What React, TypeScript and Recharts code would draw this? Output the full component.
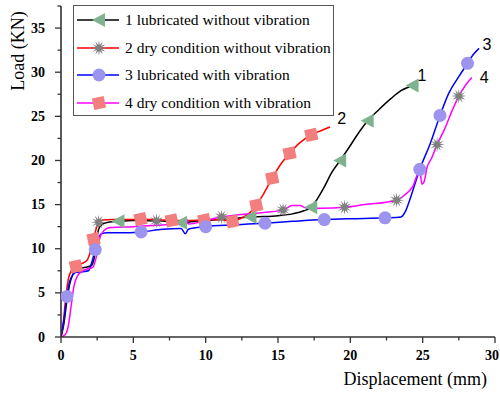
import { LineChart, Line, XAxis, YAxis, ReferenceDot } from "recharts";

type Mark = "tri" | "sq" | "circ" | "star";
type Pt = [number, number, Mark?];

// 1 lubricated without vibration (black)
const lubNoVib: Pt[] = [
  [0, 0], [0.2, 1.5], [0.4, 4], [0.6, 6], [0.8, 7], [1.0, 7.6], [1.3, 7.8], [1.7, 7.9], [2.1, 8.1],
  [2.3, 9.0], [2.45, 10.8], [2.6, 12.2], [2.8, 12.7], [3.1, 12.95], [3.97, 13.1, "tri"], [5, 13.2],
  [6.6, 13.15, "star"], [7.5, 13.1], [8.3, 12.95, "tri"], [8.6, 12.8], [8.8, 13.0], [10, 13.2],
  [11, 13.3], [12, 13.45], [13.1, 13.6, "tri"], [14, 13.65], [15, 13.75], [16, 13.95], [16.8, 14.3],
  [17.3, 14.7, "tri"], [17.7, 15.6], [18.2, 17.0], [18.7, 18.6], [19.3, 20.0, "tri"], [20, 21.7],
  [20.6, 23.2], [21.2, 24.5, "tri"], [22, 25.8], [22.8, 27], [23.5, 27.9], [24.3, 28.5, "tri"],
];

// 2 dry condition without vibration (red)
const dryNoVib: Pt[] = [
  [0, 0], [0.15, 1.5], [0.3, 4], [0.5, 6.5], [0.7, 7.5], [1.03, 8.0, "sq"], [1.4, 8.3], [1.8, 8.7],
  [2.0, 9.5], [2.25, 11.1, "sq"], [2.6, 13.0, "star"], [2.9, 13.25], [3.5, 13.3], [4.5, 13.3],
  [5.5, 13.35, "sq"], [6.6, 13.3], [7.65, 13.2, "sq"], [8.5, 13.2], [9.9, 13.25, "sq"], [11, 13.3],
  [11.85, 13.1, "sq"], [12.5, 13.5], [13, 14.0], [13.5, 14.9, "sq"], [14, 16.2], [14.6, 18.0, "sq"],
  [15.2, 19.6], [15.8, 20.8, "sq"], [16.5, 22.0], [17.3, 22.9, "sq"], [18, 23.4], [18.6, 23.8],
];

// 3 lubricated with vibration (blue)
const lubVib: Pt[] = [
  [0, 0], [0.2, 2], [0.41, 4.6, "circ"], [0.6, 6.3], [0.8, 7.0], [1.0, 7.3], [1.5, 7.4], [1.9, 7.5],
  [2.1, 8.3], [2.37, 9.9, "circ"], [2.6, 11.2], [2.8, 11.7], [3.2, 11.8], [4, 11.8],
  [5.54, 11.9, "circ"], [7, 12.2], [8.3, 12.3], [8.6, 11.7], [8.8, 12.2], [10, 12.5, "circ"],
  [12, 12.7], [14.1, 12.9, "circ"], [16, 13.1], [18.2, 13.3, "circ"], [20, 13.4], [22.4, 13.5, "circ"],
  [23.5, 13.6], [23.8, 14.2], [24.1, 15.5], [24.5, 17.5], [24.8, 19.0, "circ"], [25.5, 21.8],
  [26.2, 25.1, "circ"], [26.8, 27.6], [27.5, 29.5], [28.1, 31.0, "circ"], [28.5, 32], [28.9, 32.7],
];

// 4 dry condition with vibration (magenta)
const dryVib: Pt[] = [
  [0, 0], [0.3, 0.3], [0.5, 1.2], [0.7, 3.5], [0.9, 5.8], [1.1, 6.8], [1.4, 7.4], [1.8, 7.7],
  [2.2, 7.9], [2.5, 9.5], [2.7, 11.3], [3.0, 12.1], [3.4, 12.4], [5, 12.5], [7, 12.7], [8.5, 12.8],
  [8.7, 13.3], [8.8, 12.8], [10, 13.2], [11.1, 13.6, "star"], [12, 13.8], [13, 13.95], [14, 14.1],
  [15.35, 14.4, "star"], [16, 14.9], [16.5, 14.9], [17, 14.6], [18, 14.6], [19.6, 14.7, "star"],
  [21, 15.0], [23.2, 15.5, "star"], [23.7, 16.0], [24.3, 17.0], [24.8, 18.8], [24.95, 17.3],
  [25.1, 17.6], [25.3, 19.2], [25.6, 20.2], [26.0, 21.8, "star"], [26.5, 23.5], [27, 25.5],
  [27.5, 27.3, "star"], [28, 28.6], [28.4, 29.4],
];

const seriesNames = [
  "1 lubricated without vibration",
  "2 dry condition without vibration",
  "3 lubricated with vibration",
  "4 dry condition with vibration",
];
const seriesColors = ["#000000", "#ff0000", "#0000ff", "#ff00ff"];
const legendMarks: Mark[] = ["tri", "star", "circ", "sq"];
const curveTags = [
  { x: 24.95, y: 29.6, text: "1" },
  { x: 19.4, y: 24.8, text: "2" },
  { x: 29.45, y: 33.2, text: "3" },
  { x: 29.25, y: 29.45, text: "4" },
];

const xTicks = [0, 2.5, 5, 7.5, 10, 12.5, 15, 17.5, 20, 22.5, 25, 27.5, 30];
const yTicks = [0, 2.5, 5, 7.5, 10, 12.5, 15, 17.5, 20, 22.5, 25, 27.5, 30, 32.5, 35, 37.5];

const toPoints = (pts: Pt[]) => pts.map(([x, y, m]) => ({ x, y, m }));

const SERIF = '"Liberation Serif", "DejaVu Serif", serif';
const SANS = '"Liberation Sans", Arial, sans-serif';
const AXIS = "#333";

function Marker({ kind, cx, cy }: { kind: Mark; cx: number; cy: number }) {
  if (kind === "tri") {
    return (
      <polygon
        points={`${cx - 7},${cy} ${cx + 6},${cy - 7} ${cx + 6},${cy + 7}`}
        fill="#7fb38f"
      />
    );
  }
  if (kind === "sq") {
    return (
      <rect
        x={cx - 6}
        y={cy - 6}
        width={12}
        height={12}
        fill="#f27e7e"
        transform={`rotate(-12 ${cx} ${cy})`}
      />
    );
  }
  if (kind === "circ") {
    return <circle cx={cx} cy={cy} r={6.5} fill="#9d94f0" />;
  }
  const pts: string[] = [];
  for (let i = 0; i < 24; i++) {
    const r = i % 2 === 0 ? 7.5 : 3;
    const a = (Math.PI * i) / 12;
    pts.push(`${cx + r * Math.cos(a)},${cy + r * Math.sin(a)}`);
  }
  return <polygon points={pts.join(" ")} fill="#7f7f7f" />;
}

const renderDot = (props: any) => {
  const { cx, cy, payload, index } = props;
  if (!payload?.m) return <g key={`e-${index}`} />;
  return <Marker key={`m-${index}`} kind={payload.m} cx={cx} cy={cy} />;
};

const YTick = ({ x, y, payload }: any) => {
  const major = payload.value % 5 === 0;
  return (
    <g>
      <line x1={x - (major ? 6 : 3.5)} x2={x} y1={y} y2={y} stroke={AXIS} strokeWidth={1.3} />
      {major && (
        <text x={x - 16} y={y} textAnchor="end" dominantBaseline="central"
          style={{ fontFamily: SERIF, fontWeight: 700, fontSize: 14 }} fill="#000">
          {payload.value}
        </text>
      )}
    </g>
  );
};

const XTick = ({ x, y, payload }: any) => {
  const major = payload.value % 5 === 0;
  const last = payload.value === 30;
  return (
    <g>
      <line x1={x} x2={x} y1={y} y2={y + (major ? 6 : 3.5)} stroke={AXIS} strokeWidth={1.3} />
      {major && (
        <text x={last ? x + 4 : x} y={y + 18} textAnchor={last ? "end" : "middle"} dominantBaseline="central"
          style={{ fontFamily: SERIF, fontWeight: 700, fontSize: 14 }} fill="#000">
          {payload.value}
        </text>
      )}
    </g>
  );
};

function LegendBox() {
  return (
    <div
      style={{
        position: "absolute",
        left: 73,
        top: 5,
        width: 259,
        height: 109,
        border: "1px solid #555",
        background: "#fff",
        fontFamily: SERIF,
        fontSize: 15.5,
      }}
    >
      {seriesNames.map((name, i) => (
        <div key={name} style={{ position: "absolute", left: 0, top: 3 + i * 27.6, height: 22, display: "flex", alignItems: "center", whiteSpace: "nowrap" }}>
          <svg width={50} height={22} style={{ display: "block" }}>
            <line x1={3} x2={45} y1={11} y2={11} stroke={seriesColors[i]} strokeWidth={1.6} />
            <Marker kind={legendMarks[i]} cx={25} cy={11} />
          </svg>
          <span style={{ marginLeft: 1 }}>{name}</span>
        </div>
      ))}
    </div>
  );
}

export default function App() {
  const series = [lubNoVib, dryNoVib, lubVib, dryVib];
  return (
    <div style={{ position: "absolute", left: 0, top: 0, width: 500, height: 393, background: "#fff" }}>
      <LineChart width={500} height={393} margin={{ top: 6, right: 5, bottom: 0, left: 0 }}>
        <XAxis
          dataKey="x"
          type="number"
          domain={[0, 30]}
          ticks={xTicks}
          interval={0}
          allowDataOverflow
          tickSize={0}
          tickMargin={0}
          tickLine={false}
          tick={<XTick />}
          height={56}
          axisLine={{ stroke: AXIS, strokeWidth: 1.6 }}
          label={{ value: "Displacement (mm)", position: "insideBottomRight", offset: 8, style: { fontFamily: SERIF, fontSize: 18 }, fill: "#000" }}
        />
        <YAxis
          dataKey="y"
          type="number"
          domain={[0, 37.5]}
          ticks={yTicks}
          interval={0}
          allowDataOverflow
          tickSize={0}
          tickMargin={0}
          tickLine={false}
          tick={<YTick />}
          width={61}
          axisLine={{ stroke: AXIS, strokeWidth: 1.6 }}
        />
        {series.map((pts, i) => (
          <Line
            key={seriesNames[i]}
            data={toPoints(pts)}
            dataKey="y"
            name={seriesNames[i]}
            type="monotone"
            stroke={seriesColors[i]}
            strokeWidth={1.5}
            dot={renderDot}
            activeDot={false}
            isAnimationActive={false}
          />
        ))}
        {curveTags.map((t) => (
          <ReferenceDot
            key={t.text}
            x={t.x}
            y={t.y}
            r={0}
            ifOverflow="visible"
            fill="none"
            stroke="none"
            label={{ value: t.text, position: "center", style: { fontFamily: SANS, fontSize: 16 }, fill: "#000" }}
          />
        ))}
      </LineChart>
      <svg width={40} height={120} style={{ position: "absolute", left: 0, top: 0 }}>
        <text x={24} y={51} transform="rotate(-90 24 51)" textAnchor="middle"
          style={{ fontFamily: SERIF, fontSize: 18 }} fill="#000">
          Load (KN)
        </text>
      </svg>
      <LegendBox />
    </div>
  );
}
